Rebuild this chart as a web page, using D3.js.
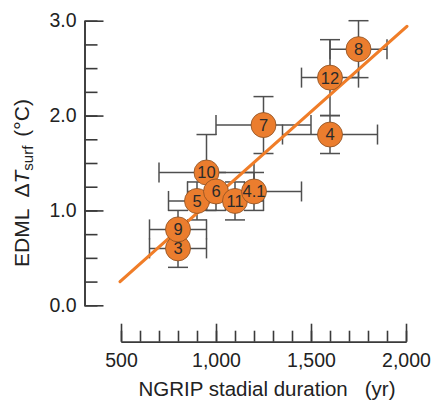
<!DOCTYPE html>
<html><head><meta charset="utf-8">
<script src="https://cdn.jsdelivr.net/npm/d3@7"></script>
<style>
body{margin:0;background:#fff;}
text{font-family:"Liberation Sans",Arial,Helvetica,sans-serif;}
</style></head>
<body><svg id="c" width="437" height="404"></svg>
<script>
const labels = ["3","9","5","10","6","11","4.1","7","4","12","8"];
const duration = [800,800,900,950,1000,1100,1200,1250,1600,1600,1750];
const durationErr = [150,150,150,250,150,150,250,250,250,150,150];
const deltaT = [0.6,0.8,1.1,1.4,1.2,1.1,1.2,1.9,1.8,2.4,2.7];
const deltaTErr = [0.2,0.2,0.2,0.4,0.2,0.2,0.2,0.3,0.2,0.4,0.3];
const fitX = [495,2005];
const fitY = [0.25,2.94];
const xMajor = [500,1000,1500,2000];
const xMinor = d3.range(500,2001,100);
const yMajor = [0,1,2,3];
const yMinor = d3.range(0,3.01,0.25);

const svg = d3.select("#c");
const x = d3.scaleLinear().domain([500,2000]).range([121,406]);
const y = d3.scaleLinear().domain([0,3]).range([305.3,20.7]);
const axisCol = "#3a3a3a";
const txtCol = "#222";

// y axis
const gy = svg.append("g").attr("transform","translate(84.5,0)");
gy.call(d3.axisLeft(y).tickValues(yMinor).tickSize(-13).tickSizeOuter(0).tickFormat(""));
gy.append("g").call(d3.axisLeft(y).tickValues(yMajor).tickSize(-19).tickSizeOuter(0).tickPadding(8).tickFormat(d3.format(".1f")));
gy.selectAll("path,line").attr("stroke",axisCol).attr("stroke-width",1.6);
gy.selectAll("text").attr("font-size",19.5).attr("fill",txtCol);

// x axis
const gx = svg.append("g").attr("transform","translate(0,341.7)");
gx.call(d3.axisBottom(x).tickValues(xMinor).tickSize(-11).tickSizeOuter(0).tickFormat(""));
gx.append("g").call(d3.axisBottom(x).tickValues(xMajor).tickSize(-18).tickSizeOuter(0).tickPadding(11.5).tickFormat(d3.format(",.0f")));
gx.selectAll("path,line").attr("stroke",axisCol).attr("stroke-width",1.6);
gx.selectAll("text").attr("font-size",19.5).attr("fill",txtCol);

// axis titles
const xt = svg.append("text").attr("x",267).attr("y",396).attr("text-anchor","middle")
  .attr("font-size",20.5).attr("fill",txtCol);
xt.append("tspan").text("NGRIP stadial duration");
xt.append("tspan").attr("dx",17).text("(yr)");

const yt = svg.append("text").attr("transform","translate(28.5,183) rotate(-90)")
  .attr("text-anchor","middle").attr("font-size",21).attr("fill",txtCol);
yt.append("tspan").text("EDML");
yt.append("tspan").attr("dx",11).text("\u0394");
yt.append("tspan").attr("font-style","italic").text("T");
yt.append("tspan").attr("font-size",15).attr("dy",4.5).text("surf");
yt.append("tspan").attr("dy",-4.5).attr("dx",9).text("(\u00B0C)");

// error bars
const data = labels.map((l,i)=>({l, x:duration[i], xe:durationErr[i], y:deltaT[i], ye:deltaTErr[i]}));
const eb = svg.append("g").attr("stroke","#4f4f4f").attr("stroke-width",1.5).attr("fill","none");
const cap = 10;
data.forEach(d=>{
  const cx = x(d.x), cy = y(d.y);
  const x0 = x(d.x-d.xe), x1 = x(d.x+d.xe), y0 = y(d.y-d.ye), y1 = y(d.y+d.ye);
  eb.append("line").attr("x1",x0).attr("x2",x1).attr("y1",cy).attr("y2",cy);
  eb.append("line").attr("x1",x0).attr("x2",x0).attr("y1",cy-cap).attr("y2",cy+cap);
  eb.append("line").attr("x1",x1).attr("x2",x1).attr("y1",cy-cap).attr("y2",cy+cap);
  eb.append("line").attr("x1",cx).attr("x2",cx).attr("y1",y0).attr("y2",y1);
  eb.append("line").attr("x1",cx-cap).attr("x2",cx+cap).attr("y1",y0).attr("y2",y0);
  eb.append("line").attr("x1",cx-cap).attr("x2",cx+cap).attr("y1",y1).attr("y2",y1);
});

// regression line
svg.append("path").datum(fitX.map((v,i)=>[v,fitY[i]]))
  .attr("d",d3.line().x(d=>x(d[0])).y(d=>y(d[1])))
  .attr("stroke","#F07D28").attr("stroke-width",3.2).attr("fill","none").attr("stroke-linecap","round");

// points
const pg = svg.append("g").selectAll("g").data(data).join("g")
  .attr("transform",d=>`translate(${x(d.x)},${y(d.y)})`);
pg.append("circle").attr("r",12.5).attr("fill","#EB7D2E").attr("stroke","#8a4f22").attr("stroke-width",0.8);
pg.append("text").attr("text-anchor","middle").attr("dy","0.36em").attr("font-size",16.5).attr("fill","#2a2a2a").text(d=>d.l);
</script></body></html>
